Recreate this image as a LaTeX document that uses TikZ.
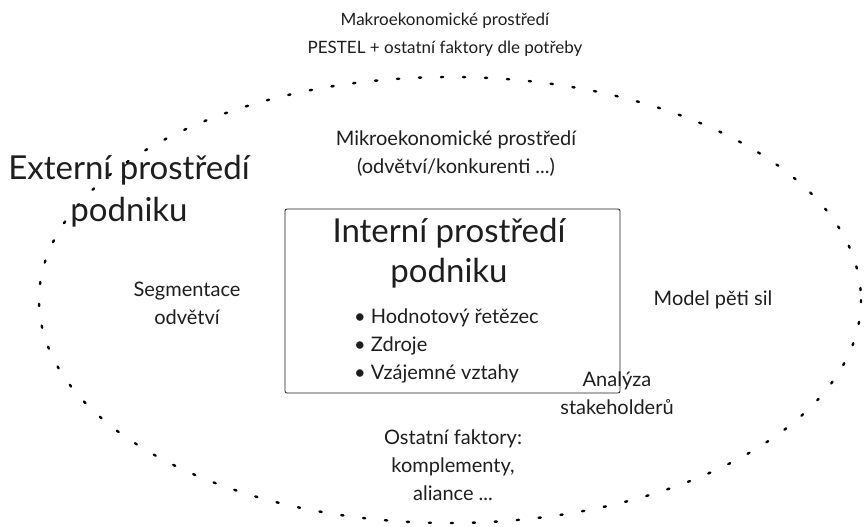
\documentclass[tikz,border=0pt]{standalone}
\usepackage{fontspec}
\setmainfont{Lato}
\usepackage{tikz}
\usetikzlibrary{positioning}
\definecolor{inkgray}{HTML}{1E1E1E}
\tikzset{
    toptext/.style={text=inkgray,align=center,font=\fontsize{17}{28}\selectfont,inner sep=0pt},
    smalltext/.style={text=inkgray,align=center,font=\fontsize{20}{28}\selectfont,inner sep=0pt},
    bigtext/.style={text=inkgray,align=center,font=\fontsize{33}{40}\selectfont,inner sep=0pt},
    hugetext/.style={text=inkgray,align=center,font=\fontsize{33}{42}\selectfont,inner sep=0pt},
    dotline/.style={draw=black,line width=2.4pt,line cap=round,dash pattern=on 2.2pt off 19.8pt},
    innerbox/.style={draw=inkgray,line width=0.8pt,rounded corners=2pt}
}
\begin{document}
\begin{tikzpicture}[x=1pt,y=-1pt]
  \useasboundingbox (0,0) rectangle (865,527);
  \fill[white] (0,0) rectangle (865,527);
  \draw[dotline] (450,300) ellipse [x radius=411, y radius=223];
  \draw[innerbox] (285,209) rectangle (620,393);
  \node[toptext] (makro) at (445,35) {Makroekonomické prostředí\\PESTEL + ostatní faktory dle potřeby};
  \node[smalltext] (mikro) at (456,154) {Mikroekonomické prostředí\\(odvětví/konkurenti ...)};
  \node[hugetext] (extern) at (129,191) {Externí prostředí\\podniku};
  \node[bigtext] (intern) at (449,253) {Interní prostředí\\podniku};
  \node[smalltext,align=left,anchor=north west] (zdroje) at (354,309)
    {• Hodnotový řetězec\\• Zdroje\\• Vzájemné vztahy};
  \node[smalltext] (segment) at (187,303) {Segmentace\\odvětví};
  \node[smalltext] (porter) at (713,300) {Model pěti sil};
  \node[smalltext] (stake) at (617,393) {Analýza\\stakeholderů};
  \node[smalltext] (ostatni) at (453,465) {Ostatní faktory:\\komplementy,\\aliance ...};
\end{tikzpicture}
\end{document}
